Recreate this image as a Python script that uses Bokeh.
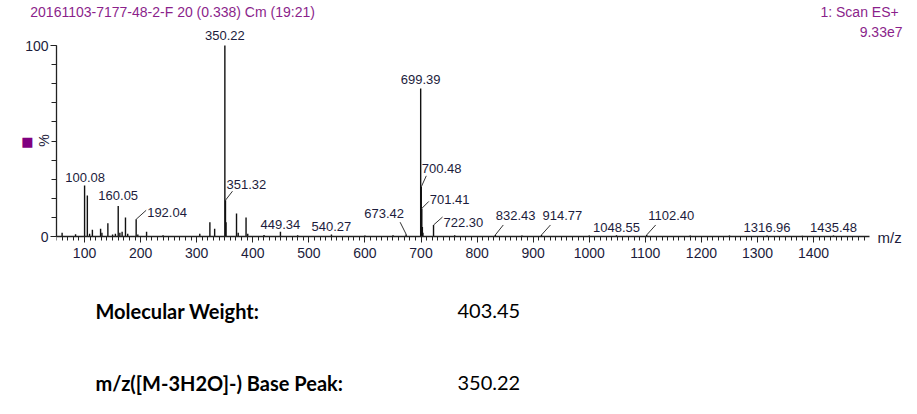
import math
from bokeh.plotting import figure
from bokeh.layouts import column
from bokeh.models import Range1d, FixedTicker, SingleIntervalTicker, LinearAxis
from bokeh.core.properties import value
from bokeh.embed import file_html
from bokeh.resources import INLINE

# ---------------- data ----------------
title_text = "20161103-7177-48-2-F 20 (0.338) Cm (19:21)"
scan_text = "1: Scan ES+"
intensity_text = "9.33e7"

mz_labeled = [100.08, 160.05, 192.04, 350.22, 351.32, 449.34, 540.27, 673.42,
              699.39, 700.48, 701.41, 722.30, 832.43, 914.77, 1048.55, 1102.40,
              1316.96, 1435.48]
int_labeled = [26.7, 16.0, 9.0, 100.0, 19.0, 2.5, 1.0, 1.2,
               77.5, 26.0, 14.7, 6.0, 0.8, 0.8, 0.6, 0.8,
               0.5, 0.5]

mz_other = [60, 84, 105, 109, 114, 128.6, 131, 141.6, 150, 155, 163, 167, 173,
            177, 195, 210.6, 240, 305.5, 323.5, 332, 352.3, 371, 374, 388, 391,
            420, 480, 600, 650, 702.4, 703.4, 760, 880, 1000, 1180, 1250, 1380]
int_other = [2.0, 1.2, 21.5, 1.5, 3.5, 4.0, 2.0, 7.0, 1.0, 1.5, 2.0, 2.5, 10.0,
             1.5, 1.0, 2.5, 0.6, 1.5, 7.5, 4.0, 7.5, 12.0, 2.0, 10.0, 1.5,
             0.8, 0.6, 0.5, 0.6, 5.0, 2.0, 0.6, 0.5, 0.5, 0.5, 0.5, 0.4]

x_tick_step = 100
y_tick_step = 100
x_label = "m/z"
y_label = "%"
info_keys = ["Molecular Weight:", "m/z([M-3H2O]-) Base Peak:"]
info_vals = ["403.45", "350.22"]

# ---------------- layout / style ----------------
W, H = 917, 414
BL, BT, BB = 56, 22, 25
FRAME_W = W - BL
FRAME_BOTTOM = 258               # canvas y of main frame bottom
FRAME_H = FRAME_BOTTOM - BT
MAIN_H = FRAME_BOTTOM + BB
INFO_H = H - MAIN_H
BASE = 236                       # canvas y of the baseline (0 %)
X0, X_AX_END = 50, 1499
XS = 0.5608                      # px per m/z unit
YS = 1.91                        # px per % unit

def mx(px):
    return X0 + (px - BL) / XS

def my(py):
    return (BASE - py) / YS

# label placement per labelled peak: (dx px, dy px, align, leader dx px, leader dy px)
lab_layout = [
    (0.5, -8, "center", 0, 0),
    (0, -10, "center", 0, 0),
    (11, -7, "left", 10, -9),
    (0, -10, "center", 0, 0),
    (1, -16, "left", 7, -9),
    (0, -7, "center", 0, 0),
    (0, -8, "center", 0, 0),
    (-22, -21, "center", -6, -12),
    (0, -9, "center", 0, 0),
    (0.5, -18, "left", 5, -11),
    (8, -9, "left", 7, -7),
    (10, -3, "left", 9, -8),
    (0.5, -19, "left", 8, -10),
    (1, -19, "left", 9, -10),
    (0, -8, "center", 0, 0),
    (1.5, -19, "left", 9, -10),
    (0, -8, "center", 0, 0),
    (0, -8, "center", 0, 0),
]

PURPLE = "#8b1f8b"
INK = "#1c1c3c"
FONT = value("Liberation Sans")

# ---- main spectrum ----
p = figure(frame_width=FRAME_W, frame_height=FRAME_H, output_backend="svg",
           toolbar_location=None,
           x_range=Range1d(mx(BL), mx(W)), y_range=Range1d(my(FRAME_BOTTOM), my(BT)),
           min_border_left=BL, min_border_right=0, min_border_top=BT,
           min_border_bottom=BB)
p.outline_line_color = None
p.grid.visible = False

xa = p.xaxis[0]
xa.ticker = SingleIntervalTicker(interval=x_tick_step, num_minor_ticks=10)
xa.bounds = (X0, X_AX_END)
xa.fixed_location = 0
ya = p.yaxis[0]
ya.ticker = SingleIntervalTicker(interval=y_tick_step, num_minor_ticks=10)
ya.bounds = (0, 100)
for ax in (xa, ya):
    ax.major_tick_in = 0
    ax.minor_tick_in = 0
    ax.major_tick_out = 6
    ax.minor_tick_out = 4
    ax.axis_line_color = "#222222"
    ax.axis_line_width = 1.3
    ax.major_tick_line_color = "#222222"
    ax.minor_tick_line_color = "#222222"
    ax.major_label_text_font = "Liberation Sans"
    ax.major_label_text_font_size = "14px"
    ax.major_label_text_color = INK
xa.major_label_standoff = 5
ya.major_label_standoff = 2
ya.minor_tick_out = 5
ya.axis_label = y_label
ya.axis_label_text_font = "Liberation Sans"
ya.axis_label_text_font_style = "normal"
ya.axis_label_text_font_size = "14px"
ya.axis_label_text_color = INK
ya.axis_label_standoff = -30

# purple marker left of the % caption
sq = LinearAxis(ticker=FixedTicker(ticks=[50]), major_label_overrides={50: "■"},
                axis_line_color=None, major_tick_line_color=None,
                minor_tick_line_color=None, major_tick_out=0, minor_tick_out=0,
                major_tick_in=0, minor_tick_in=0, major_label_standoff=0,
                major_label_text_color="#800080", major_label_text_font="DejaVu Sans",
                major_label_text_font_size="13px")
p.add_layout(sq, "left")

# header row (title left, scan type right) carried by an axis above the frame
t_left = round(mx(172))
t_right = round(mx(859))
head = LinearAxis(ticker=FixedTicker(ticks=[t_left, t_right]),
                  major_label_overrides={t_left: title_text, t_right: scan_text},
                  axis_line_color=None, major_tick_line_color=None,
                  minor_tick_line_color=None, major_tick_out=0, minor_tick_out=0,
                  major_tick_in=0, minor_tick_in=0, major_label_standoff=3,
                  major_label_text_color=PURPLE, major_label_text_font="Liberation Sans",
                  major_label_text_font_size="14px")
p.add_layout(head, "above")

all_mz = mz_other + mz_labeled
all_int = int_other + int_labeled
p.segment(x0=all_mz, y0=[0] * len(all_mz), x1=all_mz, y1=all_int,
          line_color="#111111", line_width=1.4)

lx0, ly0, lx1, ly1 = [], [], [], []
for (mz, h), (dx, dy, al, ldx, ldy) in zip(zip(mz_labeled, int_labeled), lab_layout):
    p.text(x=[mz + dx / XS], y=[h - dy / YS], text=[f"{mz:.2f}"],
           text_font=FONT, text_font_size="13px",
           text_color=INK, text_align=al, text_baseline="middle")
    if ldx or ldy:
        lx0.append(mz); ly0.append(h)
        lx1.append(mz + ldx / XS); ly1.append(h - ldy / YS)
p.segment(x0=lx0, y0=ly0, x1=lx1, y1=ly1, line_color="#333333", line_width=1)

p.text(x=[mx(902)], y=[my(31)], text=[intensity_text], text_font=FONT,
       text_font_size="14px", text_color=PURPLE, text_baseline="middle",
       text_align="right")
p.text(x=[mx(877)], y=[my(237)], text=[x_label], text_font=FONT,
       text_font_size="15px", text_color=INK, text_baseline="middle",
       text_align="left")

# ---- info block ----
info = figure(frame_width=FRAME_W, frame_height=INFO_H, output_backend="svg",
              toolbar_location=None, x_range=Range1d(BL, W), y_range=Range1d(H, MAIN_H),
              x_axis_type=None, y_axis_type=None, min_border_left=BL,
              min_border_right=0, min_border_top=0, min_border_bottom=0)
info.outline_line_color = None
info.grid.visible = False
for i, (k, v) in enumerate(zip(info_keys, info_vals)):
    yy = 310 + i * 72
    info.text(x=[95], y=[yy], text=[k], text_font=value("Lato"), text_font_style="bold",
              text_font_size="20px", text_color="black", text_baseline="middle")
    info.text(x=[457], y=[yy], text=[v], text_font=value("Lato"),
              text_font_size="20px", text_color="black", text_baseline="middle")

layout = column(p, info, spacing=0)
open("out.html", "w").write(file_html(layout, INLINE))
